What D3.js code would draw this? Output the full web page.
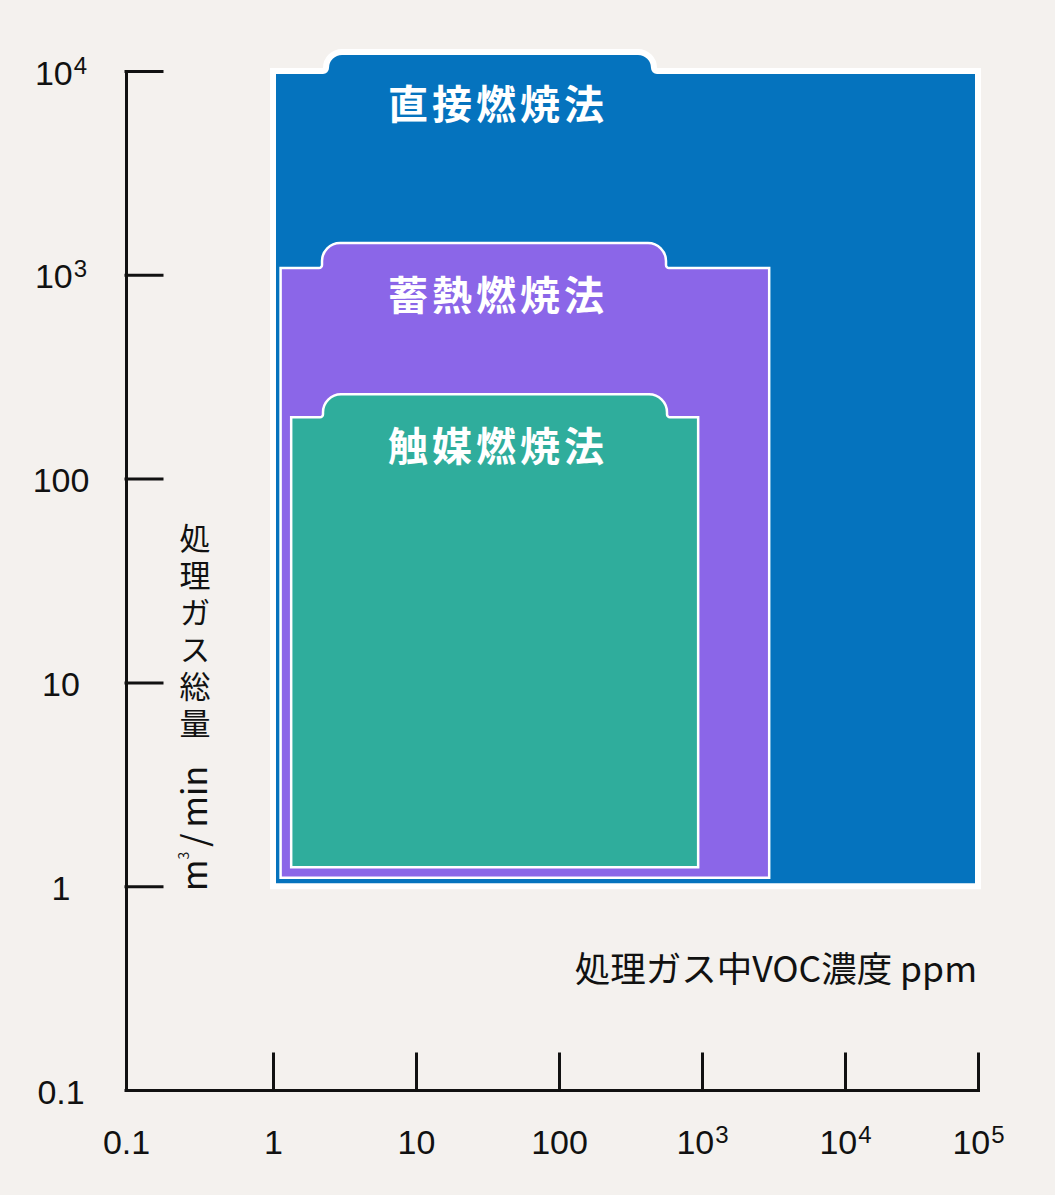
<!DOCTYPE html>
<html lang="ja">
<head>
<meta charset="utf-8">
<script src="https://cdn.jsdelivr.net/npm/d3@7"></script>
<style>
	html, body { margin: 0; padding: 0; background: #f4f1ee; }
	svg { display: block; font-family: "Noto Sans CJK JP", "Noto Sans", sans-serif; }
</style>
</head>
<body>
<div id="chart"></div>
<script>
// ==============
//	DATA
// ==============

var methods = ["直接燃焼法", "蓄熱燃焼法", "触媒燃焼法"];
var concMin = [1, 1.13, 1.34];      // ppm
var concMax = [1e5, 2950, 940];
var flowMin = [1, 1.1, 1.24];       // m3/min
var flowMax = [1e4, 1080, 200];

var xTicks = [0.1, 1, 10, 100, 1e3, 1e4, 1e5];
var xTickLabels = [["0.1"], ["1"], ["10"], ["100"], ["10", "3"], ["10", "4"], ["10", "5"]];
var yTicks = [0.1, 1, 10, 100, 1e3, 1e4];
var yTickLabels = [["0.1"], ["1"], ["10"], ["100"], ["10", "3"], ["10", "4"]];

var xTitle = "処理ガス中VOC濃度 ppm";
var yTitle = "処理ガス総量";

// ==============
//	OPTIONS
// ==============

var width = 1055, height = 1195;
var colAxis = "#111";
var methodStyle = [
	{fill: "#0573be", stroke: 6, tabCx: 490, tabHalf: 167, tabH: 19},
	{fill: "#8b66e8", stroke: 2.5, tabCx: 494, tabHalf: 175, tabH: 25},
	{fill: "#2fad9c", stroke: 2.5, tabCx: 495, tabHalf: 175, tabH: 23}
];

var x = d3.scaleLog()
	.domain([0.1, 1, 1e4, 1e5])
	.range([126, 273, 845, 978]);

var y = d3.scaleLog()
	.domain([0.1, 1e4])
	.range([1090, 71]);

var svg = d3.select("#chart").append("svg")
	.attr("width", width)
	.attr("height", height);

svg.append("rect")
	.attr("width", width)
	.attr("height", height)
	.attr("fill", "#f4f1ee");

// ==============
//	AREAS
// ==============

// rectangle with a rounded tab on top
function shapePath(i) {
	var x0 = x(concMin[i]), x1 = x(concMax[i]),
		yb = y(flowMin[i]), yt = y(flowMax[i]),
		s = methodStyle[i], f = 3,
		r = Math.min(18, s.tabH - f), v = s.tabH - f - r,
		L = s.tabCx - s.tabHalf, R = s.tabCx + s.tabHalf;
	return "M" + x0 + "," + yb + "V" + yt + "H" + L +
		"A" + f + "," + f + " 0 0 0 " + (L + f) + "," + (yt - f) +
		"V" + (yt - f - v) +
		"A" + r + "," + r + " 0 0 1 " + (L + f + r) + "," + (yt - s.tabH) +
		"H" + (R - f - r) +
		"A" + r + "," + r + " 0 0 1 " + (R - f) + "," + (yt - f - v) +
		"V" + (yt - f) +
		"A" + f + "," + f + " 0 0 0 " + R + "," + yt +
		"H" + x1 + "V" + yb + "Z";
}

svg.append("g")
	.selectAll("path")
		.data(methods)
		.join("path")
		.attr("d", (d, i) => shapePath(i))
		.attr("fill", (d, i) => methodStyle[i].fill)
		.attr("stroke", "#fff")
		.attr("stroke-width", (d, i) => methodStyle[i].stroke)
		.attr("stroke-linejoin", "miter");

svg.append("g")
	.attr("fill", "#fff")
	.style("font-size", "40px")
	.style("font-weight", 700)
	.style("letter-spacing", "4px")
	.selectAll("text")
		.data(methods)
		.join("text")
		.attr("x", 498)
		.attr("y", (d, i) => y(flowMax[i]) - methodStyle[i].tabH + 67)
		.attr("text-anchor", "middle")
		.text(d => d);

// ==============
//	AXES
// ==============

function supLabel(sel, labels) {
	sel.each(function(d, i) {
		var t = d3.select(this).text(null);
		t.append("tspan").text(labels[i][0]);
		if (labels[i][1]) {
			t.append("tspan")
				.attr("font-size", 24)
				.attr("dy", -11)
				.attr("dx", 1)
				.text(labels[i][1]);
		}
	});
}

var gx = svg.append("g")
	.attr("transform", "translate(0," + y(0.1) + ")")
	.call(d3.axisBottom(x)
		.tickValues(xTicks)
		.tickSizeInner(-36)
		.tickSizeOuter(0)
		.tickFormat(""));

gx.selectAll(".tick text")
	.attr("y", 64)
	.attr("dy", 0)
	.attr("fill", colAxis)
	.style("font-size", "34px")
	.call(supLabel, xTickLabels);

var gy = svg.append("g")
	.attr("transform", "translate(" + x(0.1) + ",0)")
	.call(d3.axisLeft(y)
		.tickValues(yTicks)
		.tickSizeInner(-36)
		.tickSizeOuter(0)
		.tickFormat(""));

gy.selectAll(".tick text")
	.attr("x", -65)
	.attr("dy", 13)
	.attr("text-anchor", "middle")
	.attr("fill", colAxis)
	.style("font-size", "34px")
	.call(supLabel, yTickLabels);

svg.selectAll(".domain, .tick line")
	.attr("stroke", colAxis)
	.attr("stroke-width", 3)
	.attr("stroke-linecap", "square");

// === titles
svg.append("text")
	.attr("x", 977)
	.attr("y", 982)
	.attr("text-anchor", "end")
	.attr("fill", colAxis)
	.style("font-size", "35.5px")
	.text(xTitle);

// vertical japanese title
svg.append("text")
	.attr("x", 195)
	.attr("y", 523)
	.attr("fill", colAxis)
	.style("writing-mode", "vertical-rl")
	.style("font-size", "31px")
	.style("letter-spacing", "6px")
	.text(yTitle);

var unit = svg.append("text")
	.attr("transform", "translate(207,891) rotate(-90)")
	.attr("fill", colAxis)
	.style("font-size", "34px");
unit.append("tspan").text("m");
unit.append("tspan").attr("font-size", 14).attr("dy", -18).text("3");
unit.append("tspan").attr("dy", 18).attr("dx", 5).text("/");
unit.append("tspan").attr("dx", 6).text("min");
</script>
</body>
</html>
